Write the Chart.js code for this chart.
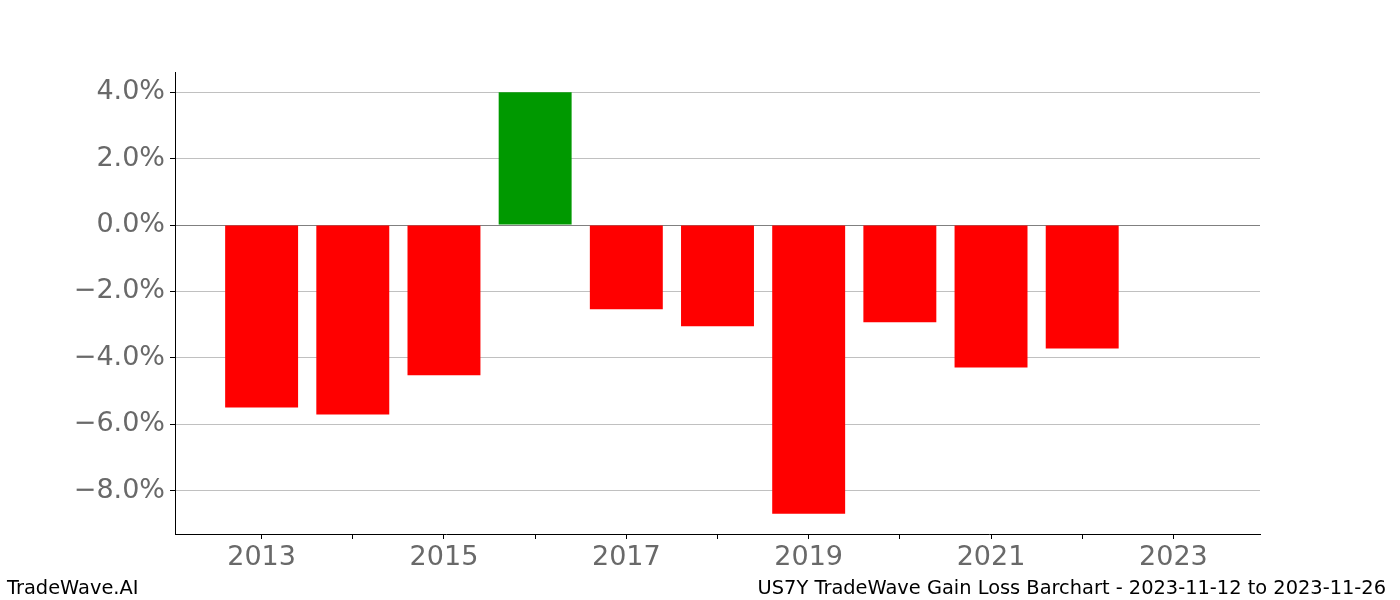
<!DOCTYPE html>
<html>
<head>
<meta charset="utf-8">
<script src="https://cdn.jsdelivr.net/npm/chart.js@4/dist/chart.umd.min.js"></script>
<style>
html,body{margin:0;padding:0;background:#fff;}
#wrap{width:1400px;height:600px;position:relative;}
</style>
</head>
<body>
<div id="wrap"><canvas id="c" width="1400" height="600"></canvas></div>
<script>
const years = [2013, 2014, 2015, 2016, 2017, 2018, 2019, 2020, 2021, 2022];
const gainLoss = [-5.50, -5.71, -4.53, 4.00, -2.54, -3.05, -8.70, -2.93, -4.29, -3.72];
const yTicks = [4, 2, 0, -2, -4, -6, -8];
const xTicks = [2013, 2014, 2015, 2016, 2017, 2018, 2019, 2020, 2021, 2022, 2023];
const xLabelYears = [2013, 2015, 2017, 2019, 2021, 2023];
const footerLeft = 'TradeWave.AI';
const footerRight = 'US7Y TradeWave Gain Loss Barchart - 2023-11-12 to 2023-11-26';

const FONT = "'DejaVu Sans', sans-serif";

const footerPlugin = {
  id: 'footer',
  afterDraw(chart) {
    const ctx = chart.ctx;
    ctx.save();
    ctx.fillStyle = '#000';
    ctx.font = "19.4px " + FONT;
    ctx.textBaseline = 'alphabetic';
    ctx.textAlign = 'left';
    ctx.fillText(footerLeft, 7, 594);
    ctx.textAlign = 'right';
    ctx.fillText(footerRight, 1386, 594);
    ctx.restore();
  }
};

new Chart(document.getElementById('c'), {
  type: 'bar',
  data: {
    datasets: [{
      data: years.map((y, i) => ({x: y, y: gainLoss[i]})),
      backgroundColor: gainLoss.map(v => v >= 0 ? '#009900' : '#ff0000'),
      borderWidth: 0,
      barPercentage: 1.0,
      categoryPercentage: 0.8
    }]
  },
  options: {
    responsive: false,
    animation: false,
    layout: {padding: {left: 0, right: 140, top: 72, bottom: 0}},
    plugins: {legend: {display: false}, tooltip: {enabled: false}, title: {display: false}},
    scales: {
      x: {
        type: 'linear',
        offset: false,
        min: 2012.05,
        max: 2023.95,
        afterBuildTicks: s => { s.ticks = xTicks.map(v => ({value: v})); },
        afterFit: s => { s.height = 66; },
        ticks: {
          autoSkip: false,
          maxRotation: 0,
          color: '#696969',
          font: {family: FONT, size: 27},
          padding: 3,
          callback: v => xLabelYears.includes(v) ? String(v) : ''
        },
        grid: {offset: false, drawOnChartArea: false, drawTicks: true, tickLength: 5, tickColor: '#000', tickWidth: 1},
        border: {display: true, color: '#000', width: 1}
      },
      y: {
        min: -9.31,
        max: 4.61,
        afterBuildTicks: s => { s.ticks = yTicks.map(v => ({value: v})); },
        afterFit: s => { s.width = 175; },
        ticks: {
          color: '#696969',
          font: {family: FONT, size: 27},
          padding: 5,
          callback: v => (v < 0 ? '\u2212' : '') + Math.abs(v).toFixed(1) + '%'
        },
        grid: {
          drawOnChartArea: true,
          color: ctx => (ctx.tick && ctx.tick.value === 0) ? '#808080' : '#c0c0c0',
          lineWidth: 1,
          tickLength: 5,
          tickColor: '#000',
          tickWidth: 1
        },
        border: {display: true, color: '#000', width: 1}
      }
    }
  },
  plugins: [footerPlugin]
});
</script>
</body>
</html>
